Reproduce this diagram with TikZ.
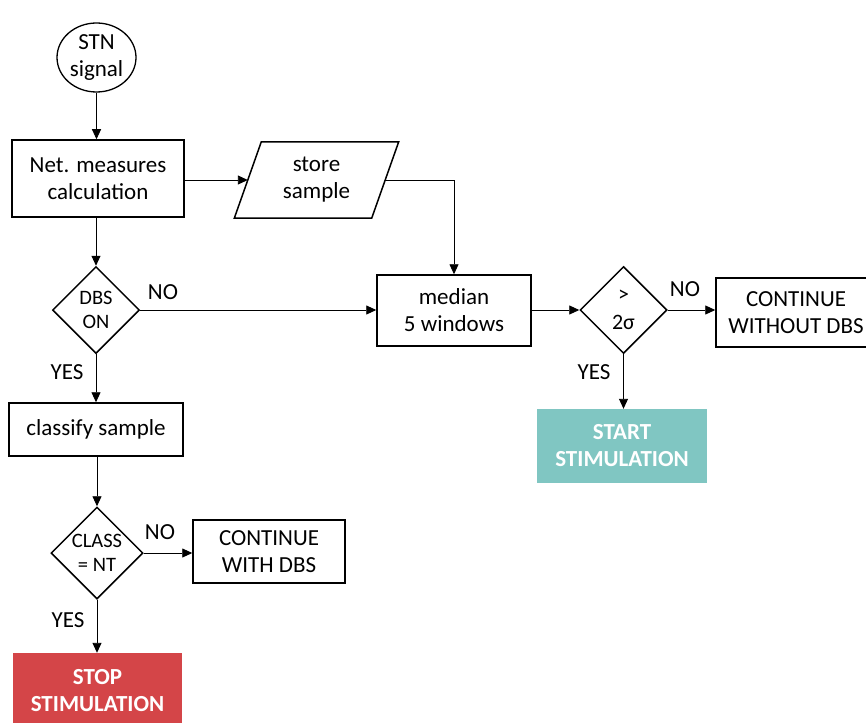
\documentclass[tikz,border=0pt]{standalone}
\usepackage{fontspec}
\setmainfont{Carlito}
\usetikzlibrary{shapes.geometric,arrows.meta}
\definecolor{teal1}{HTML}{80C6C2}
\definecolor{red1}{HTML}{D44548}
\tikzset{
  base/.style={font=\fontsize{23}{27}\selectfont, align=center, inner sep=0pt, text=black},
  procbox/.style={base, draw, line width=1.5pt, rectangle},
  decision/.style={base, draw, line width=1.5pt, diamond, aspect=1, font=\fontsize{20.5}{24}\selectfont},
  flow/.style={line width=0.9pt, -{Triangle[length=10pt,width=9pt]}},
  lbl/.style={font=\fontsize{23}{27}\selectfont, inner sep=0pt},
  term/.style={base, rectangle, text=white, font=\fontsize{23}{27}\selectfont\bfseries}
}
\begin{document}
\begin{tikzpicture}[x=1pt,y=-1pt]
\clip (0,0) rectangle (866,722);
\useasboundingbox (0,0) rectangle (866,722);
\fill[white] (0,0) rectangle (866,722);

\node[base, ellipse, draw, line width=1.3pt, minimum width=79pt, minimum height=69pt] (stn) at (96.5,57.5) {STN\\signal};
\node[procbox, minimum width=172pt, minimum height=77pt] (net) at (98,178.5) {Net. measures\\calculation};
\node[base, minimum width=137pt, minimum height=76pt] (ss) at (316.5,180) {store\\sample};
\draw[line width=1.5pt, line join=miter] ([xshift=13.5pt]ss.north west) -- ([xshift=13.5pt]ss.north east) -- ([xshift=-13.5pt]ss.south east) -- ([xshift=-13.5pt]ss.south west) -- cycle;
\node[decision, minimum size=87pt] (dbs) at (96,310) {DBS\\ON};
\node[procbox, minimum width=154pt, minimum height=71pt] (median) at (454,310.5) {median\\5 windows};
\node[decision, minimum size=87pt, font=\fontsize{22}{28}\selectfont] (sig) at (623.5,310) {>\\2σ};
\node[procbox, minimum width=160pt, minimum height=69pt] (cwo) at (796,312.5) {CONTINUE\\WITHOUT DBS};
\node[term, fill=teal1, minimum width=170pt, minimum height=74pt] (start) at (622,446) {START\\STIMULATION};
\node[procbox, minimum width=174pt, minimum height=53pt] (classify) at (96,429.5) {classify sample};
\node[decision, minimum size=92pt] (cls) at (97,553) {CLASS\\= NT};
\node[procbox, minimum width=152pt, minimum height=63pt] (cwd) at (269,551.5) {CONTINUE\\WITH DBS};
\node[term, fill=red1, minimum width=169pt, minimum height=76pt] (stop) at (97.5,691) {STOP\\STIMULATION};

\draw[flow] (stn.south) -- (stn.south |- net.north);
\draw[flow] (net.east |- ss.west) -- (ss.west);
\draw[flow] (ss.east) -| (median.north);
\draw[flow] (net.south -| dbs.north) -- (dbs.north);
\draw[flow] (dbs.east) -- (median.west |- dbs.east);
\draw[flow] (median.east |- sig.west) -- (sig.west);
\draw[flow] (sig.east) -- (cwo.west |- sig.east);
\draw[flow] (sig.south) -- (sig.south |- start.north);
\draw[flow] (dbs.south) -- (dbs.south |- classify.north);
\draw[flow] (classify.south -| cls.north) -- (cls.north);
\draw[flow] (cls.east) -- (cwd.west |- cls.east);
\draw[flow] (cls.south) -- (cls.south |- stop.north);

\node[lbl] (no1) at (163,292) {NO};
\node[lbl] (yes1) at (67,372) {YES};
\node[lbl] (no2) at (685,289) {NO};
\node[lbl] (yes2) at (594,372) {YES};
\node[lbl] (no3) at (160,532) {NO};
\node[lbl] (yes3) at (68,620) {YES};
\end{tikzpicture}
\end{document}
